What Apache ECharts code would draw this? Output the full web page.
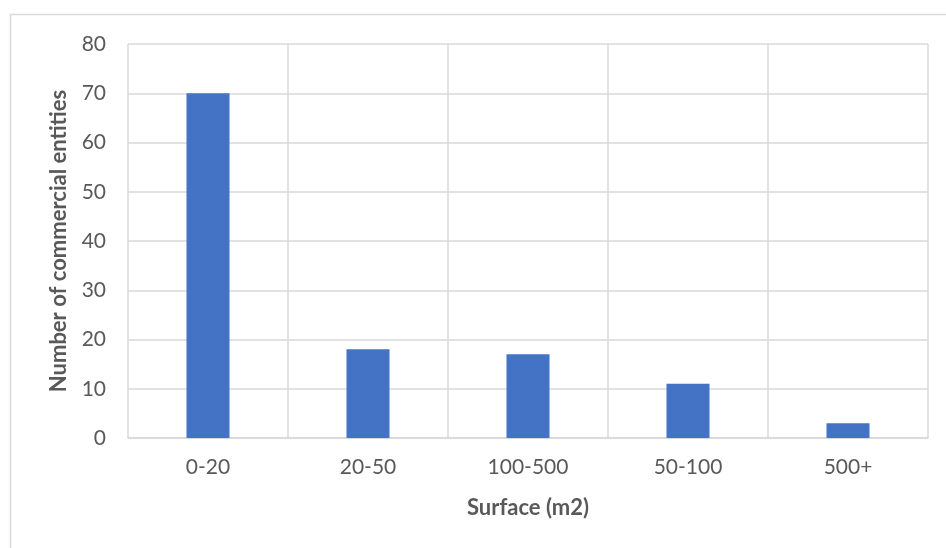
<!DOCTYPE html>
<html>
<head>
<meta charset="utf-8">
<script src="https://cdn.jsdelivr.net/npm/echarts@6/dist/echarts.min.js"></script>
<style>
  html, body { margin: 0; padding: 0; background: #ffffff; }
  #chart { width: 946px; height: 548px; }
</style>
</head>
<body>
<div id="chart"></div>
<script>
// Surface classes of the commercial entities and how many fall in each
const categories = ['0-20', '20-50', '100-500', '50-100', '500+'];
const counts = [70, 18, 17, 11, 3];
const yTicks = { min: 0, max: 80, interval: 10 };

const FONT = 'Lato';
const TEXT = '#595959';
const GRID_LINE = '#d9d9d9';

const chart = echarts.init(document.getElementById('chart'));
chart.setOption({
  backgroundColor: '#ffffff',
  animation: false,
  graphic: [{
    type: 'rect',
    shape: { x: 10.5, y: 14.5, width: 1000, height: 600 },
    style: { fill: 'none', stroke: GRID_LINE, lineWidth: 1.5 },
    silent: true
  }],
  grid: { left: 128, right: 18, top: 44, bottom: 110 },
  xAxis: {
    type: 'category',
    data: categories,
    name: 'Surface (m2)',
    nameLocation: 'middle',
    nameGap: 59,
    nameTextStyle: { fontFamily: FONT, fontSize: 22, fontWeight: 'bold', color: TEXT },
    axisLine: { show: true, lineStyle: { color: GRID_LINE, width: 1.5 } },
    axisTick: { show: false },
    axisLabel: { fontFamily: FONT, fontSize: 21, color: TEXT, margin: 19 },
    splitLine: { show: true, interval: 0, lineStyle: { color: GRID_LINE, width: 1.5 } }
  },
  yAxis: {
    type: 'value',
    min: yTicks.min,
    max: yTicks.max,
    interval: yTicks.interval,
    name: 'Number of commercial entities',
    nameLocation: 'middle',
    nameRotate: 90,
    nameGap: 58,
    nameTextStyle: { fontFamily: FONT, fontSize: 22, fontWeight: 'bold', color: TEXT },
    axisLine: { show: false },
    axisTick: { show: false },
    axisLabel: { fontFamily: FONT, fontSize: 21, color: TEXT, margin: 22 },
    splitLine: { show: true, lineStyle: { color: GRID_LINE, width: 1.5 } }
  },
  series: [{
    type: 'bar',
    data: counts,
    barWidth: 43,
    itemStyle: { color: '#4472c4' }
  }]
});
</script>
</body>
</html>
